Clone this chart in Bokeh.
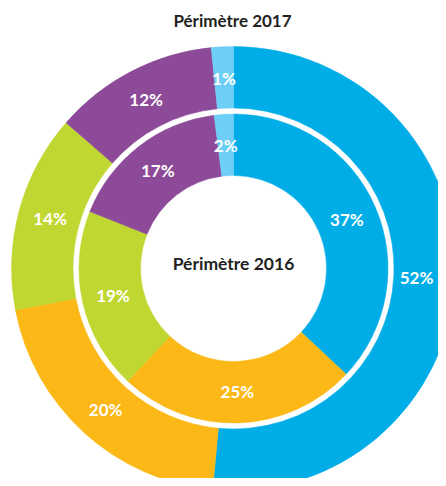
import math
from bokeh.plotting import figure
from bokeh.models import Range1d, ColumnDataSource
from bokeh.core.properties import value
from bokeh.embed import file_html
from bokeh.resources import INLINE

# --- data ---
segments = ["A", "B", "C", "D", "E"]
outer_values = [51.5, 20.5, 14.4, 12.0, 1.6]   # Périmètre 2017 (slice sizes)
outer_labels = ["52%", "20%", "14%", "12%", "1%"]
inner_values = [37, 25, 19, 17, 2]             # Périmètre 2016
inner_labels = ["37%", "25%", "19%", "17%", "2%"]
colors = ["#00ade6", "#fbb817", "#c0d731", "#8c4a98", "#6dcff6"]
title_outer = "Périmètre 2017"
title_inner = "Périmètre 2016"

W, H = 438, 478
CX, CY = 233, 268  # centre of the rings in figure pixels from top-left
XMAX = W - CX - 22  # keep labels inside the figure

p = figure(width=W, height=H, output_backend="svg", toolbar_location=None,
           x_range=Range1d(-CX, W - CX), y_range=Range1d(-(H - CY), CY),
           min_border=0)
p.axis.visible = False
p.grid.visible = False
p.outline_line_color = None
p.background_fill_color = "white"
p.border_fill_color = "white"


def ring(values, labels, r_in, r_out, r_lab):
    total = sum(values)
    starts, ends, lx, ly = [], [], [], []
    acc = 0.0
    for v in values:
        a0 = acc / total * 2 * math.pi
        acc += v
        a1 = acc / total * 2 * math.pi
        starts.append(math.pi / 2 - a0)
        ends.append(math.pi / 2 - a1)
        mid = (a0 + a1) / 2
        lx.append(min(r_lab * math.sin(mid), XMAX))
        ly.append(r_lab * math.cos(mid))
    src = ColumnDataSource(dict(start=starts, end=ends, color=colors, seg=segments))
    p.annular_wedge(x=0, y=0, inner_radius=r_in, outer_radius=r_out,
                    start_angle="start", end_angle="end", direction="clock",
                    fill_color="color", line_color="color", line_width=0.5,
                    source=src)
    lsrc = ColumnDataSource(dict(x=lx, y=ly, t=labels))
    p.text(x="x", y="y", text="t", source=lsrc, text_align="center",
           text_baseline="middle", text_color="white",
           text_font=value("Lato"), text_font_style="bold",
           text_font_size="17px")


ring(outer_values, outer_labels, 160.5, 222, 190)
ring(inner_values, inner_labels, 93, 154.5, 123.5)

p.text(x=[-1], y=[248], text=[title_outer], text_align="center",
       text_baseline="middle", text_color="#231f20",
       text_font=value("Lato"), text_font_style="bold", text_font_size="17px")
p.text(x=[0], y=[5], text=[title_inner], text_align="center",
       text_baseline="middle", text_color="#231f20",
       text_font=value("Lato"), text_font_style="bold", text_font_size="17.5px")

open("out.html", "w").write(file_html(p, INLINE))
